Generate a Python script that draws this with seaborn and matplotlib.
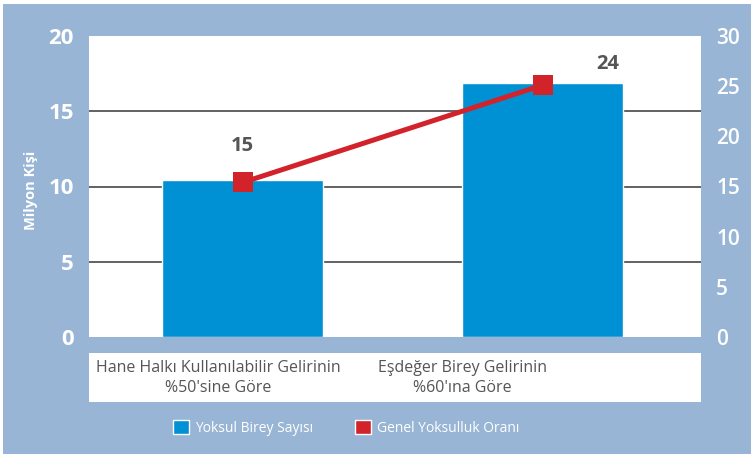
import matplotlib
matplotlib.use("Agg")
import matplotlib.pyplot as plt
import seaborn as sns
import pandas as pd
from matplotlib.patches import Patch, Rectangle

categories = ["Hane Halkı Kullanılabilir Gelirinin\n%50'sine Göre",
              "Eşdeğer Birey Gelirinin\n%60'ına Göre"]
poor_millions = [10.4, 16.9]          # Yoksul Birey Sayısı (left axis)
poverty_rate = [15.4, 25.1]           # Genel Yoksulluk Oranı (right axis)
rate_labels = ["15", "24"]
left_ticks = [0, 5, 10, 15, 20]
right_ticks = [0, 5, 10, 15, 20, 25, 30]
bar_series = "Yoksul Birey Sayısı"
line_series = "Genel Yoksulluk Oranı"
y_label = "Milyon Kişi"

sns.set_theme(style="white")
plt.rcParams['font.family'] = ['Open Sans', 'DejaVu Sans']

BG = "#98b5d5"
BLUE = "#0090d4"
RED = "#d2232a"
GRAY = "#555555"

W, H = 751, 454
fig = plt.figure(figsize=(W / 100, H / 100), dpi=100, facecolor="white")
fig.patches.append(Rectangle((3 / W, 0), 1, 1 - 4 / H, transform=fig.transFigure,
                             facecolor=BG, edgecolor="none", zorder=-10))

def fx(px):
    return px / W

def fy(py):
    return 1 - py / H

ax = fig.add_axes([fx(89), fy(337), fx(701) - fx(89), fy(36) - fy(337)])
ax.set_facecolor("white")

df = pd.DataFrame({"cat": categories, "val": poor_millions})
sns.barplot(data=df, x="cat", y="val", ax=ax, color=BLUE, width=0.537,
            saturation=1, zorder=3)
ax.set_xlim(-0.512, 1.528)
ax.set_ylim(0, 20)
ax.set_yticks(left_ticks)
ax.set_xticks([])
ax.set_xlabel("")
for t in [5, 10, 15]:
    ax.axhline(t, color=GRAY, lw=1.3, zorder=1)
for s in ax.spines.values():
    s.set_visible(False)
ax.tick_params(axis="y", length=0, pad=11, labelsize=16, labelcolor="white")
for lab in ax.get_yticklabels():
    lab.set_fontweight("bold")
ax.set_ylabel(y_label, color="white", fontsize=10.5, fontweight="bold")
ax.yaxis.set_label_coords(-0.083, 0.488)

ax2 = ax.twinx()
ldf = pd.DataFrame({"x": [0, 1], "rate": poverty_rate})
sns.lineplot(data=ldf, x="x", y="rate", ax=ax2, color=RED, lw=3.6, marker="s",
             markersize=14, markeredgewidth=0, zorder=5)
ax2.set_ylim(0, 30)
ax2.set_yticks(right_ticks)
ax2.set_ylabel("")
ax2.set_xlabel("")
for s in ax2.spines.values():
    s.set_visible(False)
ax2.tick_params(axis="y", length=0, pad=11, labelsize=15, labelcolor="white")
for lab in ax2.get_yticklabels():
    lab.set_fontweight("semibold")
ax2.set_xlim(-0.512, 1.528)

offsets = [(0, 26), (47, 15)]
for i, (v, lab) in enumerate(zip(poverty_rate, rate_labels)):
    ax2.annotate(lab, (i, v), xytext=offsets[i], textcoords="offset points",
                 ha="center", va="center", fontsize=14.5, fontweight="bold",
                 color=GRAY)

# category label box
axl = fig.add_axes([fx(89), fy(402), fx(701) - fx(89), fy(353) - fy(402)])
axl.set_facecolor("white")
axl.set_xticks([])
axl.set_yticks([])
for s in axl.spines.values():
    s.set_visible(False)
label_x = [218, 462]
for xp, c in zip(label_x, categories):
    fig.text(fx(xp), fy(378), c, ha="center", va="center", fontsize=11.5,
             color=GRAY, linespacing=1.25)

handles = [Patch(facecolor=BLUE, label=bar_series),
           Patch(facecolor=RED, label=line_series)]
fig.legend(handles=handles, loc="center", bbox_to_anchor=(fx(346), fy(428)),
           ncol=2, frameon=False, fontsize=10, labelcolor="white",
           handlelength=1.2, handleheight=1.2, handletextpad=0.4,
           columnspacing=3.0)

fig.savefig("out.png", dpi=100, facecolor="white")
